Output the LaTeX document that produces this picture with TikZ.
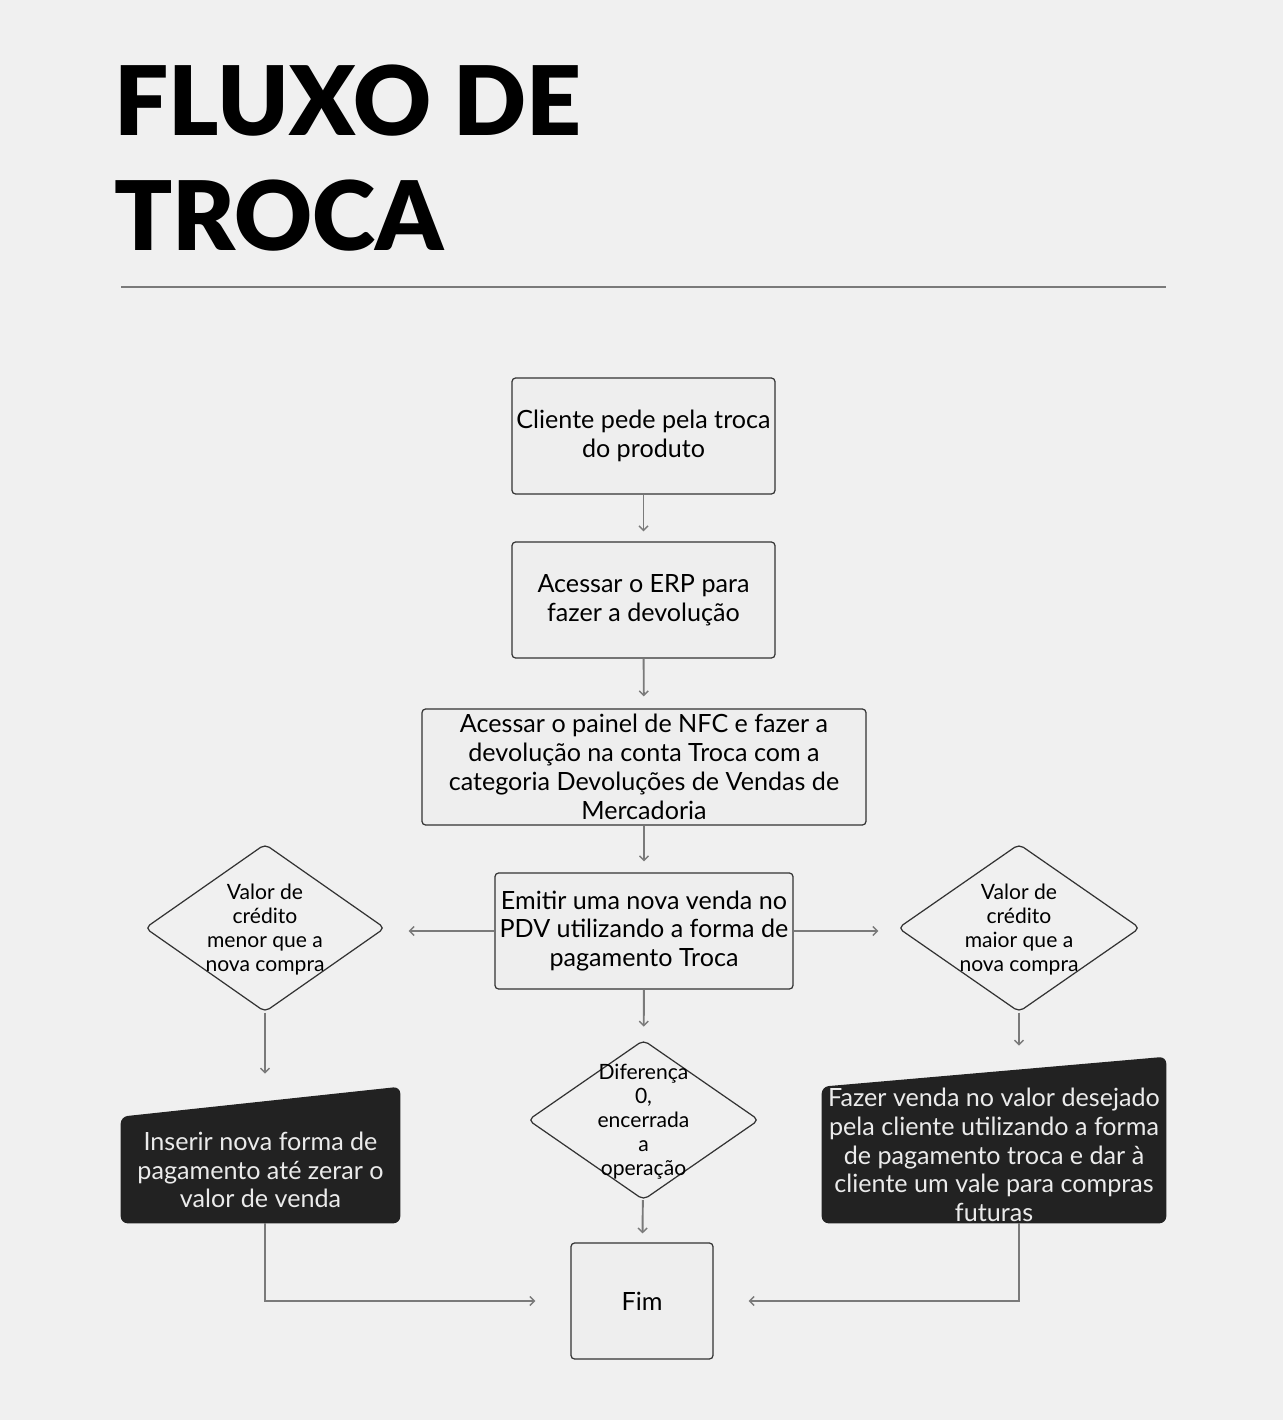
\documentclass[tikz,border=0pt]{standalone}
\usepackage{fontspec}
\setmainfont{Lato}
\newfontfamily\heavyfont{Lato Black}
\usepackage{xcolor}
\usepackage{tikz}
\usetikzlibrary{backgrounds}
\usetikzlibrary{positioning, calc, arrows.meta, shapes.geometric}
\definecolor{bgpaper}{HTML}{F0F0F0}
\definecolor{boxfill}{HTML}{EEEEEE}
\definecolor{boxline}{HTML}{333333}
\definecolor{linkgray}{HTML}{7A7A7A}
\definecolor{darkfill}{HTML}{222222}
\newcommand\bodyfont{\fontsize{14.3}{16.4}\selectfont}
\newcommand\diafont{\fontsize{12}{13.6}\selectfont}
\newcommand\smashtext[1]{\makebox[0pt]{\raisebox{-0.32cm}{\smash{\begin{tabular}{@{}c@{}}#1\end{tabular}}}}}
\tikzset{stepbox/.style={draw=boxline, fill=boxfill, line width=0.7pt, rounded corners=2pt, inner sep=0pt, align=center, font=\bodyfont, text=black}}
\tikzset{decision/.style={diamond, draw=boxline, line width=0.7pt, rounded corners=3pt, inner sep=0pt, font=\diafont, text=black}}
\tikzset{darkstep/.style={inner sep=0pt, align=center, font=\bodyfont, text=white!92!black}}
\tikzset{link/.style={draw=linkgray, line width=1.1pt, -{Straight Barb[length=0.09cm, width=0.18cm, line width=0.8pt]}}}

\begin{document}
\begin{tikzpicture}[x=0.02cm, y=-0.02cm]

      % PAGE AND TITLE

      \useasboundingbox (0,0) rectangle (1283,1420);
      \begin{scope}[on background layer]
        \fill[bgpaper] (0,0) rectangle (1283,1420);
      \end{scope}
      \node[anchor=base west, font=\heavyfont\fontsize{54.6}{65.4}\selectfont, inner sep=0pt] (ttlA) at (114,135) {FLUXO DE};
      \node[anchor=base west, font=\heavyfont\fontsize{54.6}{65.4}\selectfont, inner sep=0pt] (ttlB) at (114,250) {TROCA};
      \draw[linkgray, line width=1.1pt] (121,287) -- (1166,287);

      % STEPS

      \node[stepbox, minimum width=5.26cm, minimum height=2.32cm] (pede) at (643.5,436) {Cliente pede pela troca\\do produto};
      \node[stepbox, minimum width=5.26cm, minimum height=2.32cm] (erp) at (643.5,600) {Acessar o ERP para\\fazer a devolução};
      \node[stepbox, minimum width=8.88cm, minimum height=2.32cm] (nfc) at (644,767) {Acessar o painel de NFC e fazer a\\devolução na conta Troca com a\\categoria Devoluções de Vendas de\\Mercadoria};
      \node[stepbox, minimum width=5.96cm, minimum height=2.32cm] (emit) at (644,931) {Emitir uma nova venda no\\PDV utilizando a forma de\\pagamento Troca};
      \node[stepbox, minimum width=2.84cm, minimum height=2.32cm] (fim) at (642,1301) {Fim};

      % DECISIONS

      \node[decision, minimum width=4.8cm, minimum height=3.36cm] (menor) at (265,928) {\smashtext{Valor de\\crédito\\menor que a\\nova compra}};
      \node[decision, minimum width=4.84cm, minimum height=3.36cm] (maior) at (1019,928) {\smashtext{Valor de\\crédito\\maior que a\\nova compra}};
      \node[decision, minimum width=4.62cm, minimum height=3.2cm] (zero) at (643.5,1120) {\smashtext{Diferença\\0,\\encerrada\\a\\operação}};

      % DARK STEPS

      \node[darkstep, minimum width=5.58cm, minimum height=2.12cm] (inserir) at (260.5,1170) {Inserir nova forma de\\pagamento até zerar o\\valor de venda};
      \node[darkstep, minimum width=6.88cm, minimum height=2.72cm] (vale) at (994,1155) {Fazer venda no valor desejado\\pela cliente utilizando a forma\\de pagamento troca e dar à\\cliente um vale para compras\\futuras};
      \begin{scope}[on background layer]
        \fill[darkfill, rounded corners=4pt] (inserir.south west) -- (inserir.north west) -- ($(inserir.north east)+(0,-30)$) -- (inserir.south east) -- cycle;
        \fill[darkfill, rounded corners=4pt] (vale.south west) -- (vale.north west) -- ($(vale.north east)+(0,-30)$) -- (vale.south east) -- cycle;
      \end{scope}

      % ARCS

      \draw[link, shorten >=0.2cm] (pede) -- (erp);
      \draw[link, shorten >=0.24cm] (erp) -- (nfc);
      \draw[link, shorten >=0.22cm] (nfc) -- (emit);
      \draw[link, shorten >=0.26cm] (emit) -- (zero);
      \draw[link, shorten >=0.18cm] (zero) -- (fim);
      \draw[link, shorten >=0.46cm] (emit.west) -- (emit.west -| menor.east);
      \draw[link, shorten >=0.38cm] (emit.east) -- (emit.east -| maior.west);
      \draw[link, shorten >=0.86cm] (menor.south) -- (menor.south |- inserir.north);
      \draw[link, shorten >=0.82cm] (maior.south) -- (maior.south |- vale.north);
      \draw[link, shorten >=0.7cm] (inserir.south -| menor.south) |- (fim.west);
      \draw[link, shorten >=0.7cm] (vale.south -| maior.south) |- (fim.east);
    \end{tikzpicture}
\end{document}
